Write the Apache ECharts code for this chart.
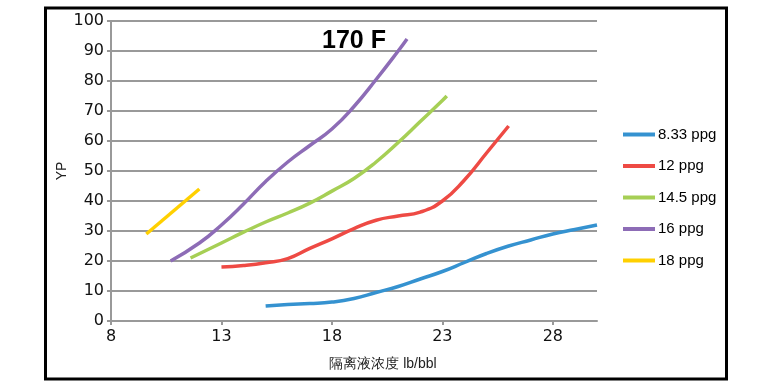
<!DOCTYPE html>
<html><head><meta charset="utf-8">
<script src="https://cdn.jsdelivr.net/npm/echarts@6/dist/echarts.min.js"></script>
<style>html,body{margin:0;padding:0;background:#fff}#c{width:775px;height:388px}</style>
</head><body><div id="c"></div>
<script>
const seriesNames = ['8.33 ppg', '12 ppg', '14.5 ppg', '16 ppg', '18 ppg'];
const colors = ['#3592d0', '#ee4a44', '#a6cf55', '#8d6cb6', '#ffd000'];
const x833 = [15, 16, 17, 18, 19, 20, 21, 22, 23, 24, 25, 26, 27, 28, 29, 30];
const y833 = [5, 5.5, 5.8, 6.3, 7.5, 9.5, 11.5, 14, 16.5, 19.5, 22.5, 25, 27, 29, 30.5, 32];
const x12 = [13, 14, 15, 16, 17, 18, 19, 20, 21, 22, 23, 24, 25, 26];
const y12 = [18, 18.5, 19.4, 20.8, 24.2, 27.4, 30.8, 33.6, 35, 36.3, 40, 47, 56, 65];
const x145 = [11.6, 13, 14, 15, 16, 17, 18, 19, 20, 21, 22, 23, 23.2];
const y145 = [21, 26, 29.6, 33, 36, 39.3, 43.3, 47.5, 53, 59.5, 66.5, 73.5, 75];
const x16 = [10.7, 12, 13, 14, 15, 16, 17, 18, 19, 20, 21, 21.4];
const y16 = [20, 26, 32, 39, 46.5, 53, 58.5, 64, 71.5, 80.5, 90, 94];
const x18 = [9.6, 12];
const y18 = [29, 44];
const xTicks = [8, 13, 18, 23, 28];
const titleText = '170 F';
const xName = '隔离液浓度 lb/bbl';
const yName = 'YP';

const xs = [x833, x12, x145, x16, x18];
const ys = [y833, y12, y145, y16, y18];
const font = 'Liberation Sans, Arial, sans-serif';
const tickFont = 'DejaVu Sans, sans-serif';
const chart = echarts.init(document.getElementById('c'));
chart.setOption({
  animation: false,
  backgroundColor: '#fff',
  title: {
    text: titleText, left: 349, top: 24, textAlign: 'center',
    textStyle: { fontFamily: font, fontWeight: 900, fontSize: 25, color: '#000' }
  },
  grid: { left: 111, right: 178, top: 21, bottom: 67 },
  graphic: [{
    type: 'rect', shape: { x: 45.5, y: 8, width: 681, height: 371 },
    style: { fill: 'none', stroke: '#000', lineWidth: 3 }, silent: true, z: 100
  }],
  legend: {
    orient: 'vertical', left: 618, top: 122,
    itemWidth: 32, itemHeight: 4, itemGap: 16.5, icon: 'rect',
    textStyle: { fontFamily: font, fontSize: 15, color: '#000', padding: [0, 0, 0, -2] },
    data: seriesNames
  },
  xAxis: {
    type: 'value', min: 8, max: 30, interval: 5,
    name: xName, nameLocation: 'middle', nameGap: 36, nameMoveOverlap: false,
    nameTextStyle: { fontFamily: font, fontSize: 14, color: '#222', padding: [0, 0, 0, 58] },
    axisLine: { lineStyle: { color: '#999', width: 2 } },
    axisTick: { show: true, length: 4, lineStyle: { color: '#999', width: 2 }, customValues: xTicks },
    axisLabel: { fontFamily: tickFont, fontSize: 16, color: '#111', margin: 8, customValues: xTicks },
    splitLine: { show: false }
  },
  yAxis: {
    type: 'value', min: 0, max: 100, interval: 10,
    name: yName, nameLocation: 'middle', nameGap: 42, nameRotate: 90, nameMoveOverlap: false,
    nameTextStyle: { fontFamily: font, fontSize: 14, color: '#222' },
    axisLine: { show: true, lineStyle: { color: '#999', width: 2 } },
    axisTick: { show: true, length: 4, lineStyle: { color: '#999', width: 2 } },
    axisLabel: { fontFamily: tickFont, fontSize: 16, color: '#111', margin: 7 },
    splitLine: { lineStyle: { color: '#999', width: 2 } }
  },
  series: seriesNames.map((n, i) => ({
    name: n, type: 'line', smooth: true, showSymbol: false, symbol: 'none',
    color: colors[i], lineStyle: { width: 3.5, color: colors[i] },
    data: xs[i].map((x, j) => [x, ys[i][j]])
  }))
});
</script></body></html>
